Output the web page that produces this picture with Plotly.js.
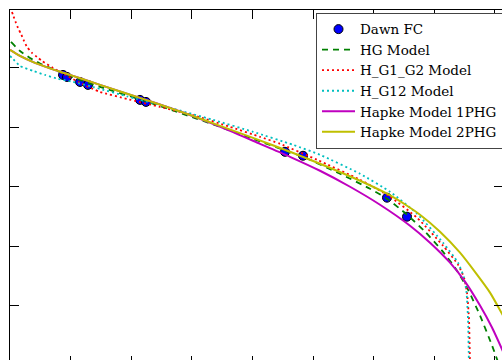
<!DOCTYPE html>
<html>
<head>
<meta charset="utf-8">
<script src="https://cdn.plot.ly/plotly-3.0.1.min.js"></script>
<style>
html,body{margin:0;padding:0;width:502px;height:360px;overflow:hidden;background:#fff;}
#chart{width:504px;height:372px;}
</style>
</head>
<body>
<div id="chart"></div>
<script>
// Phase angle (deg) and reduced magnitude
var obsPhase = [8.75, 9.41, 11.55, 12.87, 21.45, 22.44, 45.38, 48.35, 62.21, 65.51];
var obsMag   = [3.559, 3.576, 3.618, 3.643, 3.769, 3.786, 4.206, 4.239, 4.592, 4.752];

var hgPhase = [0.165, 1.650, 3.300, 4.950, 6.601, 8.746, 11.551, 14.851, 21.947, 29.208, 34.653, 40.099, 45.545, 48.350, 54.455, 59.406, 62.211, 65.512, 68.482, 71.287, 73.432, 75.578, 77.558, 79.538, 80.858];
var hgMag   = [3.2815, 3.3571, 3.416, 3.4622, 3.500, 3.5462, 3.6008, 3.6597, 3.7731, 3.8992, 3.9958, 4.0966, 4.1975, 4.2479, 4.3908, 4.5168, 4.6008, 4.7353, 4.8782, 5.0378, 5.1807, 5.3655, 5.584, 5.8361, 6.021];

var g1g2Phase = [0.33, 0.495, 0.99, 1.32, 1.815, 2.31, 2.805, 3.63, 4.455, 5.28, 7.10, 8.58, 11.55, 14.85, 19.31, 24.75, 30.03, 36.304, 41.254, 44.554, 50.660, 57.756, 62.706, 67.162, 71.452, 73.927, 74.917, 75.413, 75.743, 75.908];
var g1g2Mag   = [3.029, 3.055, 3.122, 3.164, 3.214, 3.273, 3.324, 3.374, 3.408, 3.441, 3.500, 3.542, 3.626, 3.702, 3.761, 3.828, 3.895, 3.9958, 4.0798, 4.1387, 4.2731, 4.4412, 4.584, 4.7605, 4.9958, 5.1555, 5.2647, 5.3908, 5.6176, 6.0378];

var g12Phase = [0.0, 0.33, 1.65, 3.80, 5.78, 7.92, 10.396, 14.851, 19.307, 25.248, 33.498, 40.099, 46.700, 51.155, 57.756, 62.706, 67.162, 71.452, 73.927, 74.917, 75.330, 75.578, 75.743];
var g12Mag   = [3.399, 3.416, 3.483, 3.525, 3.559, 3.592, 3.6176, 3.6765, 3.7395, 3.8193, 3.937, 4.0378, 4.1471, 4.2311, 4.3908, 4.542, 4.7269, 4.9706, 5.1387, 5.2647, 5.3908, 5.6176, 6.0378];

var hapke1Phase = [0.0, 1.650, 4.125, 6.601, 9.901, 14.851, 21.947, 26.403, 31.353, 36.304, 41.254, 46.205, 51.155, 56.106, 61.056, 66.007, 69.307, 72.607, 75.083, 77.558, 79.538, 81.353];
var hapke1Mag   = [3.3487, 3.3992, 3.458, 3.5042, 3.5588, 3.6429, 3.7605, 3.8361, 3.9286, 4.0294, 4.1387, 4.2479, 4.3655, 4.500, 4.6513, 4.8277, 4.9706, 5.1387, 5.2983, 5.500, 5.6849, 5.8866];

var hapke2Phase = [0.0, 1.650, 4.125, 6.601, 9.901, 14.851, 21.947, 29.208, 34.653, 40.099, 46.205, 51.155, 57.756, 62.211, 65.512, 67.657, 70.957, 74.257, 77.063, 79.208, 81.353];
var hapke2Mag   = [3.3487, 3.3992, 3.458, 3.5042, 3.5588, 3.6429, 3.7605, 3.8866, 3.9874, 4.0882, 4.2059, 4.3067, 4.4496, 4.5588, 4.6597, 4.7353, 4.8782, 5.0546, 5.2395, 5.3908, 5.584];

var xTicks = [0, 10, 20, 30, 40, 50, 60, 70, 80];
var yTicks = [3.5, 4.0, 4.5, 5.0, 5.5, 6.0];

var traces = [
  {x: obsPhase, y: obsMag, name: 'Dawn FC', mode: 'markers', type: 'scatter',
   marker: {color: '#0000ff', size: 9, line: {color: '#000000', width: 1}}},
  {x: hgPhase, y: hgMag, name: 'HG Model', mode: 'lines', type: 'scatter',
   line: {color: '#008000', width: 1.8, dash: '6px,5px', shape: 'spline', smoothing: 0.6}},
  {x: g1g2Phase, y: g1g2Mag, name: 'H_G1_G2 Model', mode: 'lines', type: 'scatter',
   line: {color: '#ff0000', width: 1.8, dash: '2px,3px', shape: 'spline', smoothing: 0.5}},
  {x: g12Phase, y: g12Mag, name: 'H_G12 Model', mode: 'lines', type: 'scatter',
   line: {color: '#00bfbf', width: 1.8, dash: '2px,3px', shape: 'spline', smoothing: 0.5}},
  {x: hapke1Phase, y: hapke1Mag, name: 'Hapke Model 1PHG', mode: 'lines', type: 'scatter',
   line: {color: '#bf00bf', width: 2, shape: 'spline', smoothing: 0.6}},
  {x: hapke2Phase, y: hapke2Mag, name: 'Hapke Model 2PHG', mode: 'lines', type: 'scatter',
   line: {color: '#bfbf00', width: 2, shape: 'spline', smoothing: 0.6}}
];

var axisCommon = {
  showline: true, linecolor: '#000', linewidth: 1.3, mirror: 'ticks',
  ticks: 'inside', ticklen: 9, tickwidth: 1, tickcolor: '#000',
  showticklabels: false, showgrid: false, zeroline: false
};

var layout = {
  width: 504, height: 372,
  margin: {l: 10, r: 1, t: 10, b: 7, pad: 0},
  paper_bgcolor: '#fff', plot_bgcolor: '#fff',
  font: {family: 'DejaVu Serif, serif', size: 13.5, color: '#000'},
  showlegend: true,
  legend: {x: 0.6207, y: 0.992, xanchor: 'left', yanchor: 'top', itemwidth: 33,
           bgcolor: '#fff', bordercolor: '#444', borderwidth: 1,
           font: {family: 'DejaVu Serif, serif', size: 13.5, color: '#000'}},
  xaxis: Object.assign({range: [0, 81.35], tickvals: xTicks}, axisCommon),
  yaxis: Object.assign({range: [6.0, 3.0126], tickvals: yTicks}, axisCommon)
};

Plotly.newPlot('chart', traces, layout, {staticPlot: true});
</script>
</body>
</html>
